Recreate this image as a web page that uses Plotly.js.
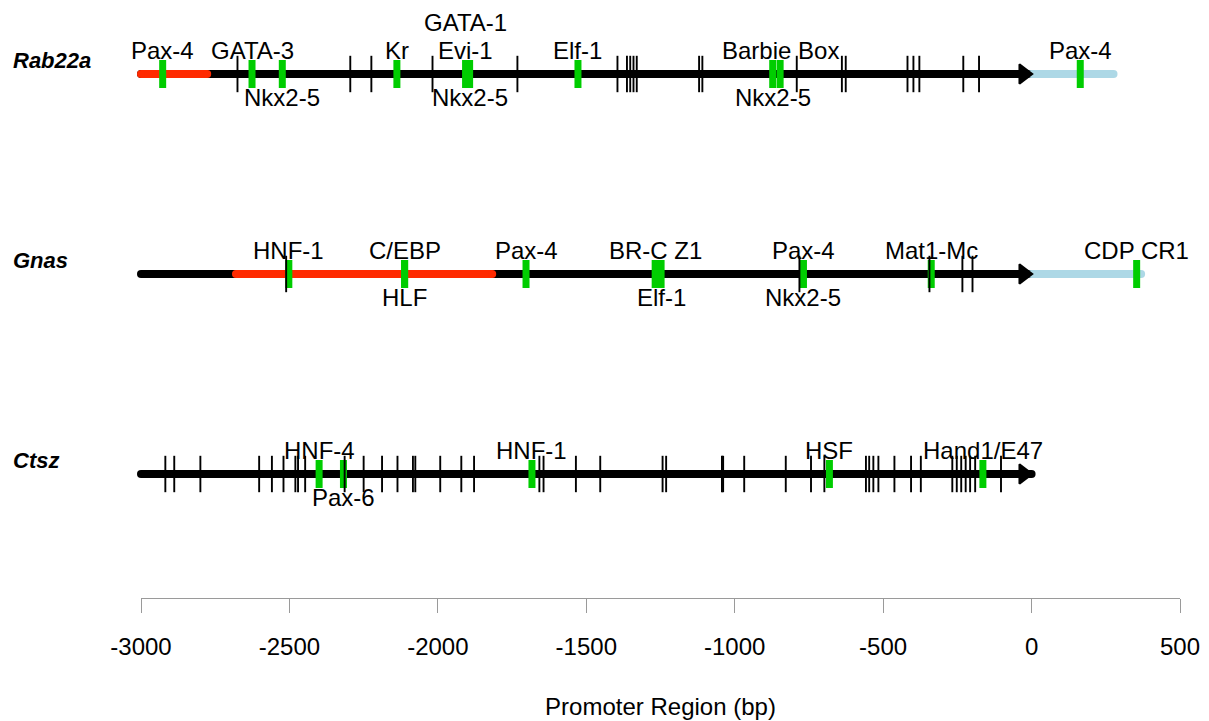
<!DOCTYPE html>
<html>
<head>
<meta charset="utf-8">
<script src="https://cdn.plot.ly/plotly-3.0.1.min.js"></script>
<style>
html,body{margin:0;padding:0;background:#fff;}
#chart{width:1209px;height:721px;}
</style>
</head>
<body>
<div id="chart"></div>
<script>
// ---------------- DATA ----------------
const genes = ['Rab22a', 'Gnas', 'Ctsz'];
const geneRows = [3, 2, 1];
const geneStart = [-3000, -3000, -3000];
const geneEnd = [0, 0, 0];
// highlighted (red) upstream region, and downstream (light blue) region
const redStart = [-3000, -2680, null];
const redEnd = [-2777, -1817, null];
const blueEnd = [276, 369, null];

// black tick marks (other sites)
const rab22aTicks = [-2675, -2295, -2224, -2018, -1732, -1395, -1363, -1352, -1341, -1330,
  -1120, -1109, -791, -639, -626, -418, -398, -378, -230, -177];
const gnasTicks = [-2511, -782, -344, -233, -199];
const ctszTicks = [-2918, -2888, -2800, -2602, -2559, -2520, -2480, -2471, -2447, -2314,
  -2250, -2188, -2136, -2084, -2076, -1992, -1921, -1878, -1658, -1644, -1535, -1453,
  -1243, -1231, -1043, -1039, -968, -828, -743, -698, -558, -547, -533, -516, -462,
  -406, -373, -267, -252, -237, -222, -207, -190, -103];

// green sites: name, position, label side
const rab22aSiteNames = ['Pax-4', 'GATA-3', 'Nkx2-5', 'Kr', 'GATA-1', 'Evi-1', 'Nkx2-5', 'Elf-1', 'Nkx2-5', 'Barbie Box', 'Pax-4'];
const rab22aSitePos   = [-2927, -2626, -2524, -2138, -1906, -1906, -1893, -1528, -872, -847, 164];
const rab22aSiteSide  = ['above', 'above', 'below', 'above', 'top', 'above', 'below', 'above', 'below', 'above', 'above'];

const gnasSiteNames = ['HNF-1', 'C/EBP', 'HLF', 'Pax-4', 'BR-C Z1', 'Elf-1', 'Pax-4', 'Nkx2-5', 'Mat1-Mc', 'CDP CR1'];
const gnasSitePos   = [-2502, -2112, -2112, -1703, -1268, -1248, -769, -769, -338, 354];
const gnasSiteSide  = ['above', 'above', 'below', 'above', 'above', 'below', 'above', 'below', 'above', 'above'];

const ctszSiteNames = ['HNF-4', 'Pax-6', 'HNF-1', 'HSF', 'Hand1/E47'];
const ctszSitePos   = [-2400, -2318, -1683, -681, -164];
const ctszSiteSide  = ['above', 'below', 'above', 'above', 'above'];

const tickVals = [-3000, -2500, -2000, -1500, -1000, -500, 0, 500];
const tickLabels = ['-3000', '-2500', '-2000', '-1500', '-1000', '-500', '0', '500'];
const xTitle = 'Promoter Region (bp)';

// ---------------- STYLE ----------------
const W = 1209, H = 721;
const M = {l: 141, r: 29, t: 10, b: 123};
const X_RANGE = [-3000, 500];
const pxPerBp = (W - M.l - M.r) / (X_RANGE[1] - X_RANGE[0]);
const LINE_W = 8;
const RED = '#ff2a00', BLUE = '#add8e6', GREEN = '#00cd00';
const FONT = 'Liberation Sans, Arial, Helvetica, sans-serif';
const ARROW_SIZE = 17, ARROW_LINE = 2;
const ARROW_CENTER_TO_TIP = ARROW_SIZE / Math.sqrt(3) + 1.75;
const ARROW_OVERSHOOT = 3.7;
const sideShift = {above: 24, below: -23, top: 52};

const ticksByGene = [rab22aTicks, gnasTicks, ctszTicks];
const siteNamesByGene = [rab22aSiteNames, gnasSiteNames, ctszSiteNames];
const sitePosByGene = [rab22aSitePos, gnasSitePos, ctszSitePos];
const siteSideByGene = [rab22aSiteSide, gnasSiteSide, ctszSiteSide];

const traces = [];
const annotations = [];

function seg(x0, x1, y, color) {
  traces.push({
    type: 'scatter', mode: 'lines+markers', x: [x0, x1], y: [y, y],
    line: {color: color, width: LINE_W},
    marker: {symbol: 'circle', size: LINE_W, color: color, line: {width: 0}},
    cliponaxis: false, hoverinfo: 'skip'
  });
}

genes.forEach((g, i) => {
  const y = geneRows[i];
  seg(geneStart[i], geneEnd[i], y, '#000');
  if (redStart[i] !== null) seg(redStart[i], redEnd[i], y, RED);
  if (blueEnd[i] !== null) seg(geneEnd[i], blueEnd[i], y, BLUE);

  // green sites
  traces.push({
    type: 'scatter', mode: 'markers', x: sitePosByGene[i], y: sitePosByGene[i].map(() => y),
    marker: {symbol: 'line-ns', size: 20, color: GREEN, line: {color: GREEN, width: 7}},
    cliponaxis: false, hoverinfo: 'skip'
  });
  // black ticks
  traces.push({
    type: 'scatter', mode: 'markers', x: ticksByGene[i], y: ticksByGene[i].map(() => y),
    marker: {symbol: 'line-ns', size: 26, color: '#000', line: {color: '#000', width: 1.9}},
    cliponaxis: false, hoverinfo: 'skip'
  });
  // arrow head at gene end
  const arrowX = geneEnd[i] + (ARROW_OVERSHOOT - ARROW_CENTER_TO_TIP) / pxPerBp;
  traces.push({
    type: 'scatter', mode: 'markers', x: [arrowX], y: [y],
    marker: {symbol: 'triangle-right', size: ARROW_SIZE, color: '#000', line: {color: '#000', width: ARROW_LINE}},
    cliponaxis: false, hoverinfo: 'skip'
  });

  // gene name
  annotations.push({
    xref: 'paper', yref: 'y', x: (11 - M.l) / (W - M.l - M.r), y: y,
    xanchor: 'left', yanchor: 'middle', yshift: 14, showarrow: false,
    text: '<b><i>' + g + '</i></b>', font: {family: FONT, size: 22, color: '#000'}
  });
  // site labels
  siteNamesByGene[i].forEach((name, k) => {
    annotations.push({
      xref: 'x', yref: 'y', x: sitePosByGene[i][k], y: y,
      xanchor: 'center', yanchor: 'middle', yshift: sideShift[siteSideByGene[i][k]],
      showarrow: false, text: name, font: {family: FONT, size: 24, color: '#000'}
    });
  });
});

const layout = {
  width: W, height: H, margin: M,
  paper_bgcolor: '#fff', plot_bgcolor: '#fff', showlegend: false,
  font: {family: FONT, size: 24, color: '#000'},
  xaxis: {
    range: X_RANGE, tickmode: 'array', tickvals: tickVals, ticktext: tickLabels,
    showgrid: false, zeroline: false, showline: true, linecolor: '#9a9a9a', linewidth: 1,
    ticks: 'outside', ticklen: 14, tickwidth: 1, tickcolor: '#9a9a9a',
    ticklabelstandoff: 13,
    tickfont: {family: FONT, size: 24, color: '#000'},
    title: {text: xTitle, font: {family: FONT, size: 24, color: '#000'}, standoff: 39},
    fixedrange: true
  },
  yaxis: {range: [0.38, 3.32], visible: false, fixedrange: true},
  annotations: annotations
};

Plotly.newPlot('chart', traces, layout, {staticPlot: true, displayModeBar: false});
</script>
</body>
</html>
